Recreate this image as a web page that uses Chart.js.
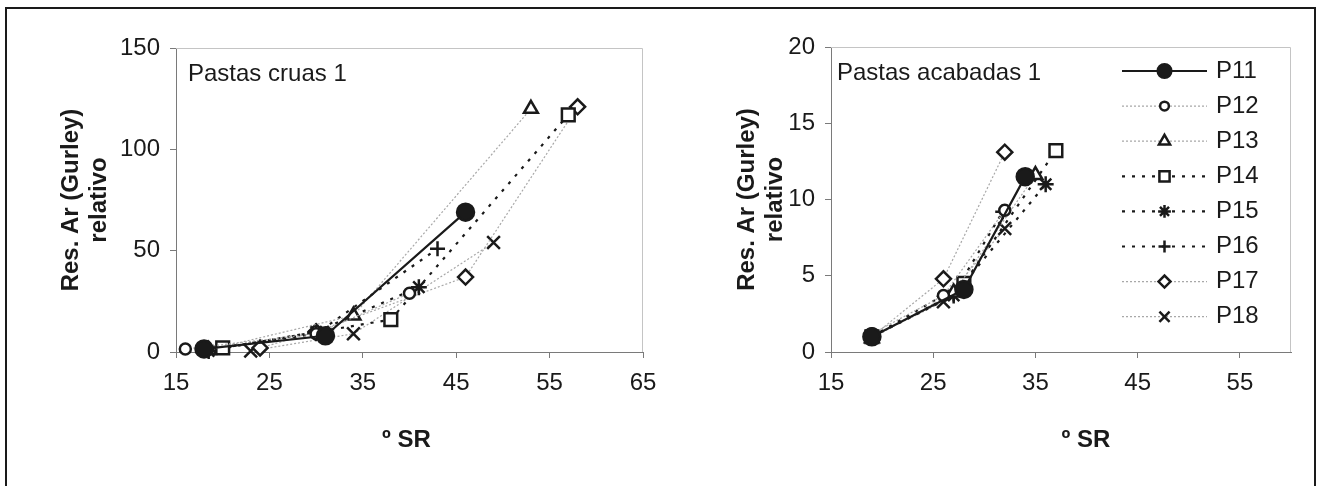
<!DOCTYPE html>
<html><head><meta charset="utf-8">
<script src="https://cdn.jsdelivr.net/npm/chart.js@4.4.1/dist/chart.umd.min.js"></script>
<style>
html,body{margin:0;padding:0;background:#fff;}
body{width:1321px;height:486px;position:relative;overflow:hidden;}
#frame{position:absolute;left:5px;top:7px;width:1311px;height:520px;border:2px solid #1a1a1a;box-sizing:border-box;}
#cA{position:absolute;left:0;top:0;}
#cB{position:absolute;left:660px;top:0;}
</style></head><body>
<div id="frame"></div>
<canvas id="cA" width="660" height="486"></canvas>
<canvas id="cB" width="661" height="486"></canvas>
<script>
// ---------- DATA ----------
const seriesNames = ['P11','P12','P13','P14','P15','P16','P17','P18'];

// Pastas cruas 1  (ºSR , Res. Ar relativo)
const cruasP11x = [18, 31, 46],        cruasP11y = [1.5, 8, 69];
const cruasP12x = [16, 30, 40],        cruasP12y = [1.5, 9, 29];
const cruasP13x = [18.5, 34, 53],      cruasP13y = [1, 18, 120];
const cruasP14x = [20, 38, 57],        cruasP14y = [2, 16, 117];
const cruasP15x = [18.5, 30, 41],      cruasP15y = [0.5, 10, 32];
const cruasP16x = [18, 30, 43],        cruasP16y = [1, 9, 51];
const cruasP17x = [24, 30, 46, 58],    cruasP17y = [2, 10, 37, 121];
const cruasP18x = [23, 34, 49],        cruasP18y = [0.5, 9, 54];

// Pastas acabadas 1
const acabP11x = [19, 28, 34],   acabP11y = [1, 4.1, 11.5];
const acabP12x = [19, 26, 32],   acabP12y = [1.2, 3.7, 9.3];
const acabP13x = [19, 27, 35],   acabP13y = [0.9, 3.9, 11.6];
const acabP14x = [19, 28, 37],   acabP14y = [1, 4.5, 13.2];
const acabP15x = [19, 27, 36],   acabP15y = [1, 3.7, 11];
const acabP16x = [19, 27, 31.8], acabP16y = [1, 3.8, 9.2];
const acabP17x = [19, 26, 32],   acabP17y = [1, 4.8, 13.1];
const acabP18x = [19, 26, 32],   acabP18y = [1, 3.3, 8.1];

// tick labels
const cruasXTicks = [15, 25, 35, 45, 55, 65];
const cruasYTicks = [0, 50, 100, 150];
const acabXTicks  = [15, 25, 35, 45, 55];
const acabYTicks  = [0, 5, 10, 15, 20];

const panelTitles = ['Pastas cruas 1', 'Pastas acabadas 1'];
const xTitle = 'º SR';
const yTitle = ['Res. Ar (Gurley)', 'relativo'];

// ---------- STYLES ----------
const INK = '#1a1a1a';
const FONT = '"Liberation Sans", Arial, Helvetica, sans-serif';
Chart.defaults.font.family = FONT;
Chart.defaults.font.size = 24;
Chart.defaults.color = INK;

const solidLine = {borderColor: INK, borderWidth: 2.2, borderDash: []};
const grayDots  = {borderColor: '#a8a8a8', borderWidth: 1.2, borderDash: [2, 2]};
const blackDash = {borderColor: INK, borderWidth: 2.2, borderDash: [3, 7]};
const lineStyles = [solidLine, grayDots, grayDots, blackDash, blackDash, blackDash, grayDots, grayDots];
const markerStyles = [
  {pointStyle: 'circle',   r: 8.5, fill: INK},
  {pointStyle: 'circle',   r: 5.5, fill: '#fff'},
  {pointStyle: 'triangle', r: 8,   fill: '#fff'},
  {pointStyle: 'rect',     r: 9,   fill: '#fff'},
  {pointStyle: 'star',     r: 8,   fill: '#fff'},
  {pointStyle: 'cross',    r: 7.5, fill: '#fff'},
  {pointStyle: 'rectRot',  r: 7.5, fill: '#fff'},
  {pointStyle: 'crossRot', r: 9,   fill: '#fff'}
];

function pts(xs, ys) { return xs.map((x, i) => ({x: x, y: ys[i]})); }

function buildDatasets(pairs) {
  return pairs.map((p, i) => {
    const ls = lineStyles[i], ms = markerStyles[i];
    return {
      label: seriesNames[i],
      data: pts(p[0], p[1]),
      showLine: true,
      borderColor: ls.borderColor,
      borderWidth: ls.borderWidth,
      borderDash: ls.borderDash,
      pointStyle: ms.pointStyle,
      pointRadius: ms.r,
      pointHoverRadius: ms.r,
      pointBackgroundColor: ms.fill,
      pointBorderColor: INK,
      pointBorderWidth: 2.5,
      tension: 0,
      clip: false
    };
  });
}

// ---------- PLUGINS ----------
const plotFrame = {
  id: 'plotFrame',
  beforeDatasetsDraw(chart, args, o) {
    const {left, right, top, bottom} = chart.chartArea;
    const ctx = chart.ctx;
    ctx.save();
    ctx.strokeStyle = o.color || '#c4c4c4';
    ctx.lineWidth = 1;
    ctx.beginPath();
    ctx.moveTo(left, top + 0.5);
    ctx.lineTo(right - 0.5, top + 0.5);
    ctx.lineTo(right - 0.5, bottom);
    ctx.stroke();
    ctx.restore();
  }
};

const panelLabel = {
  id: 'panelLabel',
  afterDraw(chart, args, o) {
    if (!o.text) return;
    const ctx = chart.ctx;
    ctx.save();
    ctx.font = '24px ' + FONT;
    ctx.fillStyle = INK;
    ctx.textAlign = 'left';
    ctx.textBaseline = 'alphabetic';
    ctx.fillText(o.text, chart.chartArea.left + o.dx, chart.chartArea.top + o.dy);
    ctx.restore();
  }
};

const sideLegend = {
  id: 'sideLegend',
  afterDraw(chart, args, o) {
    if (!o.show) return;
    const ctx = chart.ctx;
    const drawPoint = Chart.helpers && Chart.helpers.drawPoint;
    chart.data.datasets.forEach((ds, i) => {
      const y = o.top + i * o.step;
      ctx.save();
      ctx.strokeStyle = ds.borderColor;
      ctx.lineWidth = ds.borderWidth;
      ctx.setLineDash(ds.borderDash || []);
      ctx.beginPath();
      ctx.moveTo(o.x0, y);
      ctx.lineTo(o.x1, y);
      ctx.stroke();
      ctx.setLineDash([]);
      ctx.strokeStyle = ds.pointBorderColor;
      ctx.fillStyle = ds.pointBackgroundColor;
      ctx.lineWidth = ds.pointBorderWidth;
      if (drawPoint) {
        drawPoint(ctx, {pointStyle: ds.pointStyle, radius: ds.pointRadius * o.scale, rotation: 0, borderWidth: ds.pointBorderWidth}, (o.x0 + o.x1) / 2, y);
      }
      ctx.fillStyle = INK;
      ctx.font = '24px ' + FONT;
      ctx.textAlign = 'left';
      ctx.textBaseline = 'middle';
      ctx.fillText(ds.label, o.textX, y);
      ctx.restore();
    });
  }
};

// ---------- CHART FACTORY ----------
function makeChart(canvas, cfg) {
  const axisGrid = {display: true, drawOnChartArea: false, drawTicks: true, tickLength: 6, color: '#7a7a7a', lineWidth: 1};
  const axisBorder = {display: true, color: '#7a7a7a', width: 1};
  return new Chart(canvas, {
    type: 'scatter',
    data: {datasets: buildDatasets(cfg.pairs)},
    options: {
      responsive: false,
      animation: false,
      events: [],
      layout: {padding: {left: 0, top: cfg.top, right: cfg.right, bottom: 0}},
      plugins: {
        legend: {display: false},
        tooltip: {enabled: false},
        plotFrame: {color: '#c4c4c4'},
        panelLabel: {text: cfg.label, dx: cfg.labelDx, dy: 33},
        sideLegend: cfg.legend
      },
      scales: {
        x: {
          type: 'linear',
          min: cfg.xTicks[0],
          max: cfg.xMax,
          grid: axisGrid,
          border: axisBorder,
          afterBuildTicks: s => { s.ticks = cfg.xTicks.map(v => ({value: v})); },
          afterFit: s => {
            s.height = 486 - cfg.bottom;
            s.paddingLeft = 0; s.paddingRight = 0;
            if (cfg.xTitleShift && !s.__shifted) {
              const orig = s.drawTitle;
              s.drawTitle = function () {
                this.ctx.save();
                this.ctx.translate(cfg.xTitleShift, 0);
                orig.call(this);
                this.ctx.restore();
              };
              s.__shifted = true;
            }
          },
          ticks: {padding: 11, color: INK, font: {size: 24}, maxRotation: 0},
          title: {display: true, text: xTitle, color: INK, font: {size: 24, weight: 'bold'}, padding: {top: 0, bottom: 31}}
        },
        y: {
          type: 'linear',
          min: cfg.yTicks[0],
          max: cfg.yTicks[cfg.yTicks.length - 1],
          grid: axisGrid,
          border: axisBorder,
          afterBuildTicks: s => { s.ticks = cfg.yTicks.map(v => ({value: v})); },
          afterFit: s => { s.width = cfg.axisX; s.paddingTop = 0; s.paddingBottom = 0; },
          ticks: {padding: 10, color: INK, font: {size: 24}},
          title: {display: true, text: yTitle, color: INK, font: {size: 24, weight: 'bold', lineHeight: 1.2}, padding: {top: cfg.yTitlePad, bottom: 0}}
        }
      }
    },
    plugins: [plotFrame, panelLabel, sideLegend]
  });
}

makeChart(document.getElementById('cA'), {
  pairs: [[cruasP11x, cruasP11y], [cruasP12x, cruasP12y], [cruasP13x, cruasP13y], [cruasP14x, cruasP14y],
          [cruasP15x, cruasP15y], [cruasP16x, cruasP16y], [cruasP17x, cruasP17y], [cruasP18x, cruasP18y]],
  xTicks: cruasXTicks, xMax: 65, yTicks: cruasYTicks,
  top: 48, bottom: 352, right: 660 - 643, axisX: 176,
  yTitlePad: 56.6, xTitleShift: -3,
  label: panelTitles[0], labelDx: 12,
  legend: {show: false}
});

makeChart(document.getElementById('cB'), {
  pairs: [[acabP11x, acabP11y], [acabP12x, acabP12y], [acabP13x, acabP13y], [acabP14x, acabP14y],
          [acabP15x, acabP15y], [acabP16x, acabP16y], [acabP17x, acabP17y], [acabP18x, acabP18y]],
  xTicks: acabXTicks, xMax: 60, yTicks: acabYTicks,
  top: 47, bottom: 352, right: 661 - 631, axisX: 171,
  yTitlePad: 72.6, xTitleShift: 25,
  label: panelTitles[1], labelDx: 6,
  legend: {show: true, x0: 462, x1: 547, textX: 556, top: 71, step: 35.1, scale: 0.8}
});
</script>
</body></html>
